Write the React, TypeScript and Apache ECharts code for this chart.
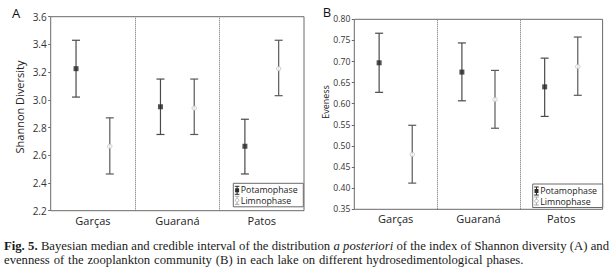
import { useEffect, useRef } from "react";
import * as echarts from "echarts";

const categories = ["Garças", "Guaraná", "Patos"];
const phases = ["Potamophase", "Limnophase"];

const shannonPotamoMedian = [3.225, 2.95, 2.665];
const shannonPotamoLower = [3.02, 2.75, 2.465];
const shannonPotamoUpper = [3.43, 3.15, 2.86];
const shannonLimnoMedian = [2.665, 2.94, 3.225];
const shannonLimnoLower = [2.465, 2.75, 3.03];
const shannonLimnoUpper = [2.87, 3.15, 3.43];

const evenPotamoMedian = [0.697, 0.675, 0.64];
const evenPotamoLower = [0.627, 0.607, 0.57];
const evenPotamoUpper = [0.767, 0.744, 0.708];
const evenLimnoMedian = [0.48, 0.61, 0.688];
const evenLimnoLower = [0.412, 0.542, 0.62];
const evenLimnoUpper = [0.549, 0.679, 0.758];

const FONT = "Open Sans";
const PHASE_OFFSET = [-0.2, 0.2];
const BAR_COLOR = ["#4a4a4a", "#5a5a5a"];

function makeSeries(
  panel: number,
  phase: number,
  med: number[],
  lo: number[],
  hi: number[],
  withDividers: boolean
) {
  const off = PHASE_OFFSET[phase];
  const color = BAR_COLOR[phase];
  const bars: any = {
    type: "custom",
    name: phases[phase],
    xAxisIndex: panel,
    yAxisIndex: panel,
    encode: { x: 0, y: [1, 2] },
    data: med.map((_, i) => [i + 1 + off, lo[i], hi[i]]),
    renderItem: (params: any, api: any) => {
      const x = api.value(0);
      const a = api.coord([x, api.value(1)]);
      const b = api.coord([x, api.value(2)]);
      const cap = 4;
      const st = { stroke: color, lineWidth: 1.2 };
      return {
        type: "group",
        children: [
          { type: "line", shape: { x1: a[0], y1: a[1], x2: b[0], y2: b[1] }, style: st },
          { type: "line", shape: { x1: a[0] - cap, y1: a[1], x2: a[0] + cap, y2: a[1] }, style: st },
          { type: "line", shape: { x1: b[0] - cap, y1: b[1], x2: b[0] + cap, y2: b[1] }, style: st },
        ],
      };
    },
    z: 2,
  };
  if (withDividers) {
    bars.markLine = {
      silent: true,
      symbol: "none",
      label: { show: false },
      lineStyle: { type: [1, 1], color: "#6a6a6a", width: 1 },
      data: [{ xAxis: 1.5 }, { xAxis: 2.5 }],
    };
  }
  const pts = {
    type: "scatter",
    name: phases[phase] + " median",
    xAxisIndex: panel,
    yAxisIndex: panel,
    data: med.map((m, i) => [i + 1 + off, m]),
    symbol: phase === 0 ? "rect" : "circle",
    symbolSize: phase === 0 ? 5 : 4.5,
    itemStyle:
      phase === 0
        ? { color: "#262626" }
        : { color: "#ffffff", borderColor: "#b0b0b0", borderWidth: 0.8 },
    z: 3,
  };
  return [bars, pts];
}

function legendGraphic(x0: number, y0: number) {
  const dark = "#2a2a2a";
  const light = "#a8a8a8";
  const txt = (text: string, y: number) => ({
    type: "text",
    x: 7.5,
    y,
    style: {
      text,
      fill: "#222",
      font: `8.8px "${FONT}"`,
      lineHeight: 9.5,
      verticalAlign: "middle",
      align: "left",
    },
  });
  const icon = (yc: number, col: string, sq: boolean) => {
    const ls = { stroke: col, lineWidth: 1 };
    return [
      { type: "line", shape: { x1: 3.8, y1: yc - 4, x2: 3.8, y2: yc + 4 }, style: ls },
      { type: "line", shape: { x1: 1.5, y1: yc - 4, x2: 6.1, y2: yc - 4 }, style: ls },
      { type: "line", shape: { x1: 1.5, y1: yc + 4, x2: 6.1, y2: yc + 4 }, style: ls },
      sq
        ? { type: "rect", shape: { x: 1.8, y: yc - 2, width: 4, height: 4 }, style: { fill: dark } }
        : { type: "circle", shape: { cx: 3.8, cy: yc, r: 1.8 }, style: { fill: "#fff", stroke: light, lineWidth: 0.8 } },
    ];
  };
  return {
    type: "group",
    x: x0,
    y: y0,
    z: 10,
    children: [
      { type: "rect", shape: { x: 0, y: 0, width: 70, height: 23.5 }, style: { fill: "#fff", stroke: "#6a6a6a", lineWidth: 1 } },
      ...icon(7, dark, true),
      txt(phases[0], 6.9),
      ...icon(17, light, false),
      txt(phases[1], 18.0),
    ],
  };
}

function xAxis(gridIndex: number) {
  return {
    type: "value",
    gridIndex,
    min: 0.5,
    max: 3.5,
    interval: 0.5,
    axisLine: { show: false },
    axisTick: { show: false },
    splitLine: { show: false },
    axisLabel: {
      margin: 4,
      color: "#222",
      fontFamily: FONT,
      fontSize: 11,
      formatter: (v: number) => (Number.isInteger(v) && v >= 1 && v <= 3 ? categories[v - 1] : ""),
    },
  };
}

function yAxis(gridIndex: number, min: number, max: number, interval: number, dec: number, fs: number) {
  return {
    type: "value",
    gridIndex,
    min,
    max,
    interval,
    axisLine: { show: false },
    axisTick: { show: true, length: 2.5, lineStyle: { color: "#666" } },
    splitLine: { show: false },
    axisLabel: {
      margin: 4,
      color: "#333",
      fontFamily: FONT,
      fontSize: fs,
      formatter: (v: number) => v.toFixed(dec),
    },
  };
}

export default function App() {
  const ref = useRef<HTMLDivElement>(null);
  useEffect(() => {
    const chart = echarts.init(ref.current!, null, { renderer: "svg" });
    const option: any = {
      animation: false,
      backgroundColor: "#ffffff",
      grid: [
        { left: 50.7, top: 16.7, width: 253.3, height: 194, show: true, borderColor: "#6a6a6a", borderWidth: 1, backgroundColor: "transparent" },
        { left: 354.3, top: 19.3, width: 248.3, height: 190, show: true, borderColor: "#6a6a6a", borderWidth: 1, backgroundColor: "transparent" },
      ],
      xAxis: [xAxis(0), xAxis(1)],
      yAxis: [yAxis(0, 2.2, 3.6, 0.2, 1, 10), yAxis(1, 0.35, 0.8, 0.05, 2, 8.6)],
      series: [
        ...makeSeries(0, 0, shannonPotamoMedian, shannonPotamoLower, shannonPotamoUpper, true),
        ...makeSeries(0, 1, shannonLimnoMedian, shannonLimnoLower, shannonLimnoUpper, false),
        ...makeSeries(1, 0, evenPotamoMedian, evenPotamoLower, evenPotamoUpper, true),
        ...makeSeries(1, 1, evenLimnoMedian, evenLimnoLower, evenLimnoUpper, false),
      ],
      graphic: [
        { type: "text", x: 16, y: 13, style: { text: "A", fill: "#111", font: `13px "${FONT}"`, align: "center", verticalAlign: "middle" } },
        { type: "text", x: 327, y: 11.5, style: { text: "B", fill: "#111", font: `13px "${FONT}"`, align: "center", verticalAlign: "middle" } },
        { type: "text", x: 19, y: 107, rotation: Math.PI / 2, style: { text: "Shannon Diversity", fill: "#222", font: `11px "${FONT}"`, align: "center", verticalAlign: "middle" } },
        { type: "text", x: 325, y: 102, rotation: Math.PI / 2, style: { text: "Eveness", fill: "#222", font: `9px "${FONT}"`, align: "center", verticalAlign: "middle" } },
        legendGraphic(233.3, 183.3),
        legendGraphic(532.7, 184),
      ],
    };
    chart.setOption(option);
    return () => chart.dispose();
  }, []);

  const cap: any = {
    position: "absolute",
    left: 4,
    width: 605,
    fontFamily: '"Liberation Serif", "Times New Roman", serif',
    fontSize: "12.7px",
    lineHeight: "14.5px",
    color: "#1a1a1a",
    margin: 0,
    whiteSpace: "nowrap",
  };

  return (
    <div style={{ position: "absolute", left: 0, top: 0, width: 612, height: 269, background: "#fff", overflow: "hidden" }}>
      <div ref={ref} style={{ position: "absolute", left: 0, top: 0, width: 612, height: 228 }} />
      <div style={{ ...cap, top: 238.8, textAlign: "justify", textAlignLast: "justify" }}>
        <b>Fig. 5.</b> Bayesian median and credible interval of the distribution <i>a posteriori</i> of the index of Shannon diversity (A) and
      </div>
      <div style={{ ...cap, top: 253.3, wordSpacing: "0.7px" }}>
        evenness of the zooplankton community (B) in each lake on different hydrosedimentological phases.
      </div>
    </div>
  );
}
